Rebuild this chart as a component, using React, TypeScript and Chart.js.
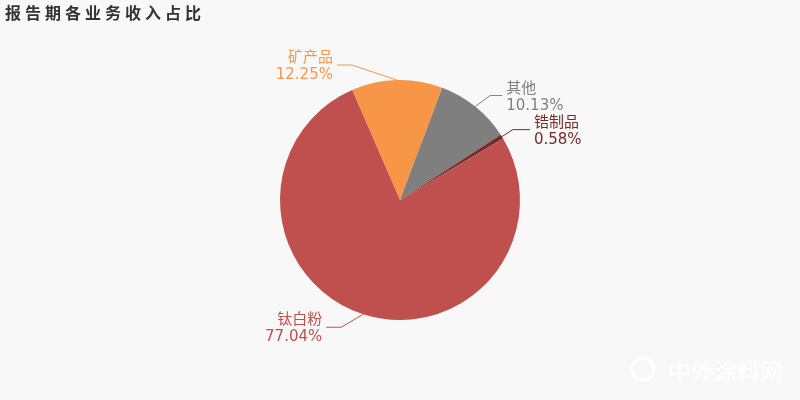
import React, { useEffect, useRef } from "react";
import { Chart, registerables } from "chart.js";

Chart.register(...registerables);

const chartTitle = "报告期各业务收入占比";
const categories = ["矿产品", "其他", "锆制品", "钛白粉"];
const shares = [12.25, 10.13, 0.58, 77.04];
const sliceColors = ["#f79646", "#7f7f7f", "#772c2a", "#c0504d"];
const watermark = "中外涂料网";

// label leader layout (elbow offset from slice edge, horizontal run)
const leaderOffsets = [
  [-45, -15],
  [15, -11],
  [11, -7],
  [-22, 13],
];
const leaderRuns = [15, 12, 17, 15];

const FONT = '"DejaVu Sans", "Noto Sans CJK SC", sans-serif';

const bgPlugin = {
  id: "bgPlugin",
  beforeDraw(chart: any) {
    const ctx = chart.ctx;
    ctx.save();
    ctx.fillStyle = "#f8f8f8";
    ctx.fillRect(0, 0, chart.width, chart.height);
    ctx.restore();
  },
};

const labelPlugin = {
  id: "labelPlugin",
  afterDraw(chart: any) {
    const ctx = chart.ctx;
    ctx.save();
    // title
    ctx.fillStyle = "#333333";
    ctx.font = `bold 16px "Noto Sans CJK SC", ${FONT}`;
    ctx.textAlign = "left";
    ctx.textBaseline = "alphabetic";
    try {
      (ctx as any).letterSpacing = "4px";
    } catch (e) {}
    ctx.fillText(chartTitle, 5, 19);
    try {
      (ctx as any).letterSpacing = "0px";
    } catch (e) {}

    // watermark
    ctx.fillStyle = "#ffffff";
    ctx.font = `23px "Noto Sans CJK SC", sans-serif`;
    ctx.fillText(watermark, 668, 380);
    ctx.strokeStyle = "#ffffff";
    ctx.lineWidth = 3;
    ctx.beginPath();
    ctx.arc(643, 369, 11, 0, Math.PI * 2);
    ctx.stroke();

    const meta = chart.getDatasetMeta(0);
    meta.data.forEach((arc: any, i: number) => {
      const p = arc.getProps(["x", "y", "startAngle", "endAngle", "outerRadius"], true);
      const mid = (p.startAngle + p.endAngle) / 2;
      const ex = p.x + p.outerRadius * Math.cos(mid);
      const ey = p.y + p.outerRadius * Math.sin(mid);
      const [dx, dy] = leaderOffsets[i];
      const bx = ex + dx;
      const by = ey + dy;
      const left = dx < 0;
      const cx = bx + (left ? -leaderRuns[i] : leaderRuns[i]);
      ctx.strokeStyle = sliceColors[i];
      ctx.lineWidth = 1;
      ctx.beginPath();
      ctx.moveTo(ex, ey);
      ctx.lineTo(bx, by);
      ctx.lineTo(cx, by);
      ctx.stroke();
      const tx = cx + (left ? -4 : 4);
      ctx.fillStyle = sliceColors[i];
      ctx.textAlign = left ? "right" : "left";
      ctx.font = `15px ${FONT}`;
      ctx.fillText(categories[i], tx, by - 3);
      ctx.fillText(shares[i].toFixed(2) + "%", tx, by + 14);
    });
    ctx.restore();
  },
};

export default function App() {
  const ref = useRef<HTMLCanvasElement>(null);
  useEffect(() => {
    document.body.style.margin = "0";
    document.body.style.background = "#f8f8f8";
    const chart = new Chart(ref.current!, {
      type: "pie",
      data: {
        labels: categories,
        datasets: [
          {
            data: shares,
            backgroundColor: sliceColors,
            borderWidth: 0,
          },
        ],
      },
      options: {
        animation: false,
        responsive: false,
        rotation: -23.5,
        layout: { padding: { top: 80, bottom: 80, left: 0, right: 0 } },
        plugins: {
          legend: { display: false },
          tooltip: { enabled: false },
          title: { display: false },
        },
      },
      plugins: [bgPlugin, labelPlugin],
    });
    return () => chart.destroy();
  }, []);
  return (
    <div style={{ width: 800, height: 400 }}>
      <canvas ref={ref} width={800} height={400} style={{ display: "block" }} />
    </div>
  );
}
